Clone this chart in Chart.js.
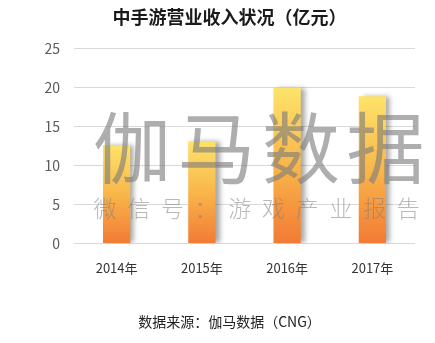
<!DOCTYPE html>
<html lang="zh">
<head>
<meta charset="UTF-8">
<title>中手游营业收入状况</title>
<script src="https://cdn.jsdelivr.net/npm/chart.js"></script>
<style>
  html, body { margin: 0; padding: 0; background: #fff; }
  #wrap { width: 435px; height: 343px; }
</style>
</head>
<body>
<div id="wrap"><canvas id="myChart" width="435" height="343"></canvas></div>
<script>
var years = ["2014年", "2015年", "2016年", "2017年"];
var revenue = [12.6, 13.1, 20.0, 18.9];
var yTicks = [0, 5, 10, 15, 20, 25];
var watermark = "伽马数据";
var watermarkSub = "微信号：游戏产业报告";

var FONT = "'Noto Sans CJK SC', 'Noto Sans', sans-serif";

function barGradient(context) {
    var chart = context.chart;
    var y = chart.scales.y;
    if (!y || context.raw === undefined) return "#f8b24a";
    var top = y.getPixelForValue(context.raw);
    var bottom = y.getPixelForValue(0);
    if (!isFinite(top) || !isFinite(bottom) || top === bottom) return "#f8b24a";
    var g = chart.ctx.createLinearGradient(0, top, 0, bottom);
    g.addColorStop(0, "#fde36a");
    g.addColorStop(0.5, "#f9b64a");
    g.addColorStop(1, "#f27a35");
    return g;
}

// soft grey shadow on the right of each bar
var shadowPlugin = {
    id: "barShadow",
    beforeDatasetsDraw: function (chart) {
        var ctx = chart.ctx;
        ctx.save();
        ctx.shadowColor = "rgba(0,0,0,0.35)";
        ctx.shadowBlur = 5;
        ctx.shadowOffsetX = 4;
        ctx.shadowOffsetY = 0;
    },
    afterDatasetsDraw: function (chart) {
        chart.ctx.restore();
    }
};

// the watermark sits on top of the bars
var watermarkPlugin = {
    id: "watermark",
    afterDraw: function (chart) {
        var ctx = chart.ctx;
        ctx.save();
        ctx.fillStyle = "rgba(125,125,125,0.62)";
        ctx.textAlign = "center";
        ctx.textBaseline = "middle";
        ctx.font = "78px " + FONT;
        var big = watermark.split("");
        for (var i = 0; i < big.length; i++) {
            ctx.fillText(big[i], 132 + i * 84.5, 148);
        }
        ctx.fillStyle = "rgba(125,125,125,0.55)";
        ctx.font = "300 23px " + FONT;
        var small = watermarkSub.split("");
        for (var j = 0; j < small.length; j++) {
            ctx.fillText(small[j], 105 + j * 33.7, 208);
        }
        ctx.restore();
    }
};

new Chart(document.getElementById("myChart"), {
    type: "bar",
    data: {
        labels: years,
        datasets: [{
            data: revenue,
            backgroundColor: barGradient,
            borderWidth: 0,
            barPercentage: 0.32,
            categoryPercentage: 1
        }]
    },
    options: {
        responsive: false,
        animation: false,
        layout: { padding: { left: 44, right: 20, top: 0, bottom: 13 } },
        plugins: {
            legend: { display: false },
            tooltip: { enabled: false },
            title: {
                display: true,
                text: "中手游营业收入状况（亿元）",
                color: "#1a1a1a",
                font: { family: FONT, size: 18, weight: "bold" },
                padding: { top: 6, bottom: 21 }
            },
            subtitle: {
                display: true,
                position: "bottom",
                text: "数据来源：伽马数据（CNG）",
                color: "#222",
                font: { family: FONT, size: 14 },
                padding: { top: 28, bottom: 0 }
            }
        },
        scales: {
            x: {
                grid: { display: false },
                border: { display: false },
                ticks: { color: "#333", font: { family: FONT, size: 13 }, padding: 9 }
            },
            y: {
                min: 0,
                max: 25,
                afterBuildTicks: function (axis) {
                    axis.ticks = yTicks.map(function (v) { return { value: v }; });
                },
                afterFit: function (axis) { axis.width = 30; },
                grid: { color: "#d9d9d9", drawTicks: false },
                border: { display: false },
                ticks: { color: "#595959", font: { family: FONT, size: 14 }, padding: 14 }
            }
        }
    },
    plugins: [shadowPlugin, watermarkPlugin]
});
</script>
</body>
</html>
